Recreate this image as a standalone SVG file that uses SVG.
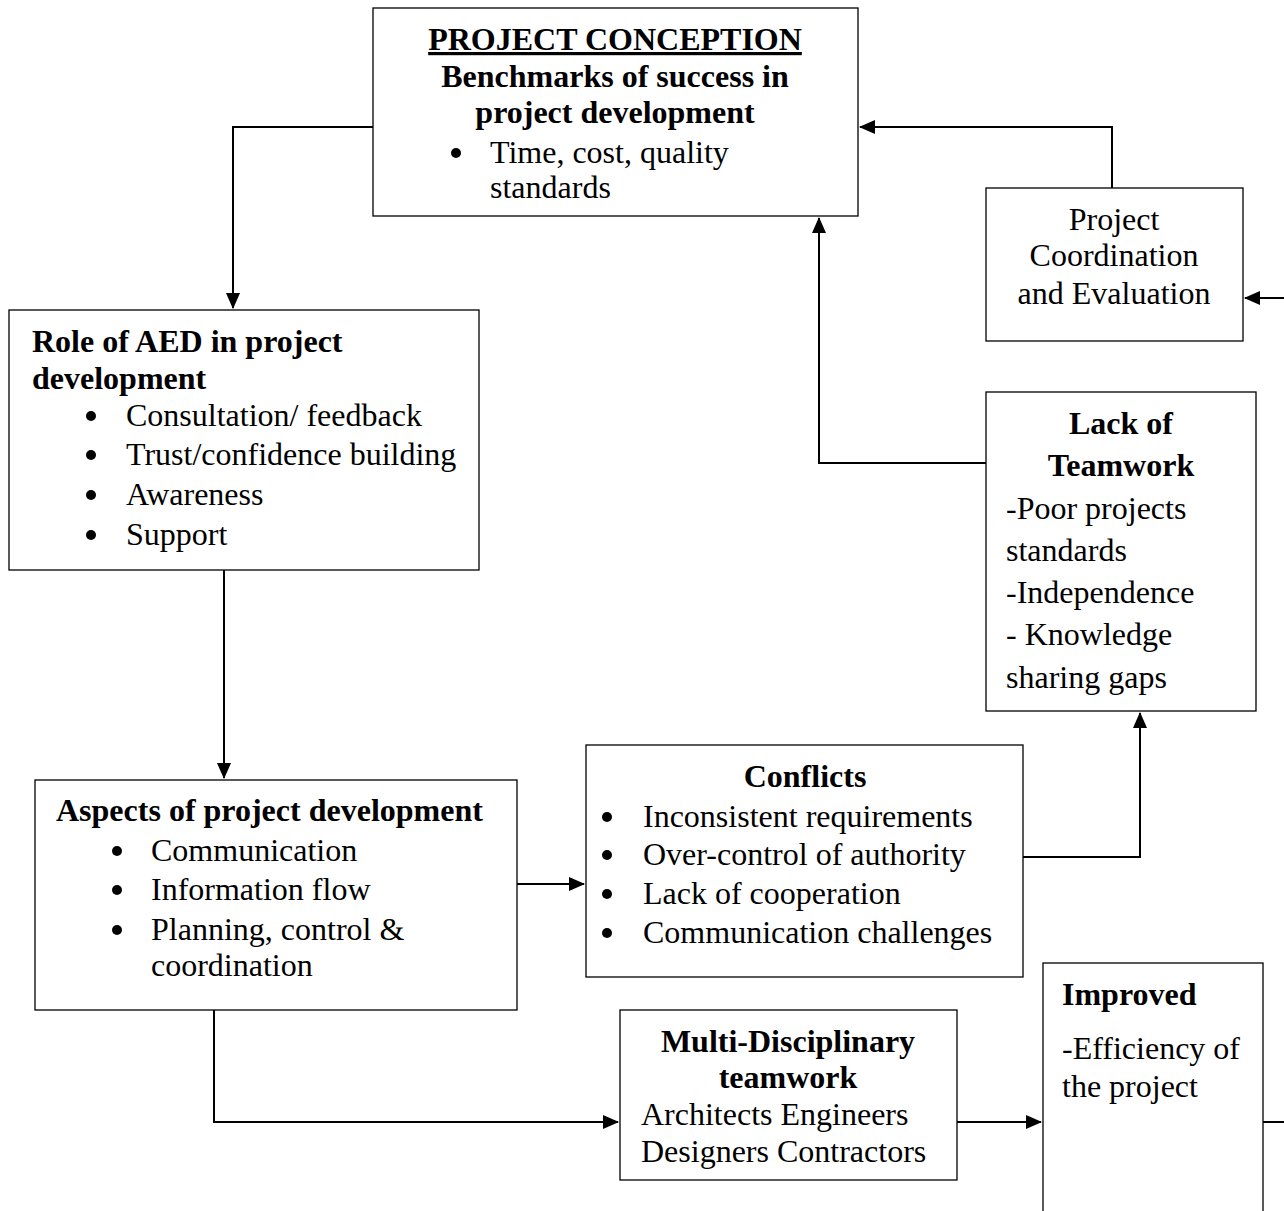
<svg xmlns="http://www.w3.org/2000/svg" width="1284" height="1211" viewBox="0 0 1284 1211">
<defs>
<style>
text{font-family:"Liberation Serif","Times New Roman",serif;font-size:32px;fill:#000}
.b{font-weight:bold}
.c{text-anchor:middle}
.box{fill:#fff;stroke:#000;stroke-width:1.3}
.ln{fill:none;stroke:#000;stroke-width:2}
</style>
<marker id="ah" markerWidth="16" markerHeight="14" refX="15" refY="7" orient="auto" markerUnits="userSpaceOnUse">
<path d="M0,0 L16,7 L0,14 Z" fill="#000"/>
</marker>
</defs>
<g id="connectors">
<polyline class="ln" points="373,127 233,127 233,308" marker-end="url(#ah)"/>
<polyline class="ln" points="1112,188 1112,127 860,127" marker-end="url(#ah)"/>
<polyline class="ln" points="1284,298 1245,298" marker-end="url(#ah)"/>
<polyline class="ln" points="986,463 819,463 819,218" marker-end="url(#ah)"/>
<polyline class="ln" points="224,570 224,778" marker-end="url(#ah)"/>
<polyline class="ln" points="517,884 584,884" marker-end="url(#ah)"/>
<polyline class="ln" points="1023,857 1140,857 1140,713" marker-end="url(#ah)"/>
<polyline class="ln" points="214,1010 214,1122 618,1122" marker-end="url(#ah)"/>
<polyline class="ln" points="957,1122 1041,1122" marker-end="url(#ah)"/>
<polyline class="ln" points="1263,1122 1284,1122"/>
</g>
<g id="project-conception">
<rect class="box" x="373" y="8" width="485" height="208"/>
<text class="b c" x="615" y="50" text-decoration="underline">PROJECT CONCEPTION</text>
<text class="b c" x="615" y="87">Benchmarks of success in</text>
<text class="b c" x="615" y="123">project development</text>
<circle cx="456" cy="153" r="5"/>
<text x="490" y="163">Time, cost, quality</text>
<text x="490" y="198">standards</text>
</g>
<g id="project-coordination">
<rect class="box" x="986" y="188" width="257" height="153"/>
<text class="c" x="1114" y="230">Project</text>
<text class="c" x="1114" y="266">Coordination</text>
<text class="c" x="1114" y="304">and Evaluation</text>
</g>
<g id="role-aed">
<rect class="box" x="9" y="310" width="470" height="260"/>
<text class="b" x="32" y="352">Role of AED in project</text>
<text class="b" x="32" y="389">development</text>
<circle cx="91" cy="416" r="5"/><text x="126" y="426">Consultation/ feedback</text>
<circle cx="91" cy="455" r="5"/><text x="126" y="465">Trust/confidence building</text>
<circle cx="91" cy="495" r="5"/><text x="126" y="505">Awareness</text>
<circle cx="91" cy="535" r="5"/><text x="126" y="545">Support</text>
</g>
<g id="lack-teamwork">
<rect class="box" x="986" y="392" width="270" height="319"/>
<text class="b c" x="1121" y="434">Lack of</text>
<text class="b c" x="1121" y="476">Teamwork</text>
<text x="1006" y="519">-Poor projects</text>
<text x="1006" y="561">standards</text>
<text x="1006" y="603">-Independence</text>
<text x="1006" y="645">- Knowledge</text>
<text x="1006" y="688">sharing gaps</text>
</g>
<g id="aspects">
<rect class="box" x="35" y="780" width="482" height="230"/>
<text class="b" x="56" y="821">Aspects of project development</text>
<circle cx="117" cy="851" r="5"/><text x="151" y="861">Communication</text>
<circle cx="117" cy="890" r="5"/><text x="151" y="900">Information flow</text>
<circle cx="117" cy="930" r="5"/><text x="151" y="940">Planning, control &amp;</text>
<text x="151" y="976">coordination</text>
</g>
<g id="conflicts">
<rect class="box" x="586" y="745" width="437" height="232"/>
<text class="b c" x="805" y="787">Conflicts</text>
<circle cx="607" cy="817" r="5"/><text x="643" y="827">Inconsistent requirements</text>
<circle cx="607" cy="855" r="5"/><text x="643" y="865">Over-control of authority</text>
<circle cx="607" cy="894" r="5"/><text x="643" y="904">Lack of cooperation</text>
<circle cx="607" cy="933" r="5"/><text x="643" y="943">Communication challenges</text>
</g>
<g id="multidisciplinary">
<rect class="box" x="620" y="1010" width="337" height="170"/>
<text class="b c" x="788" y="1052">Multi-Disciplinary</text>
<text class="b c" x="788" y="1088">teamwork</text>
<text x="641" y="1125">Architects Engineers</text>
<text x="641" y="1162">Designers Contractors</text>
</g>
<g id="improved">
<rect class="box" x="1043" y="963" width="220" height="260"/>
<text class="b" x="1062" y="1005">Improved</text>
<text x="1062" y="1059">-Efficiency of</text>
<text x="1062" y="1097">the project</text>
</g>
</svg>
